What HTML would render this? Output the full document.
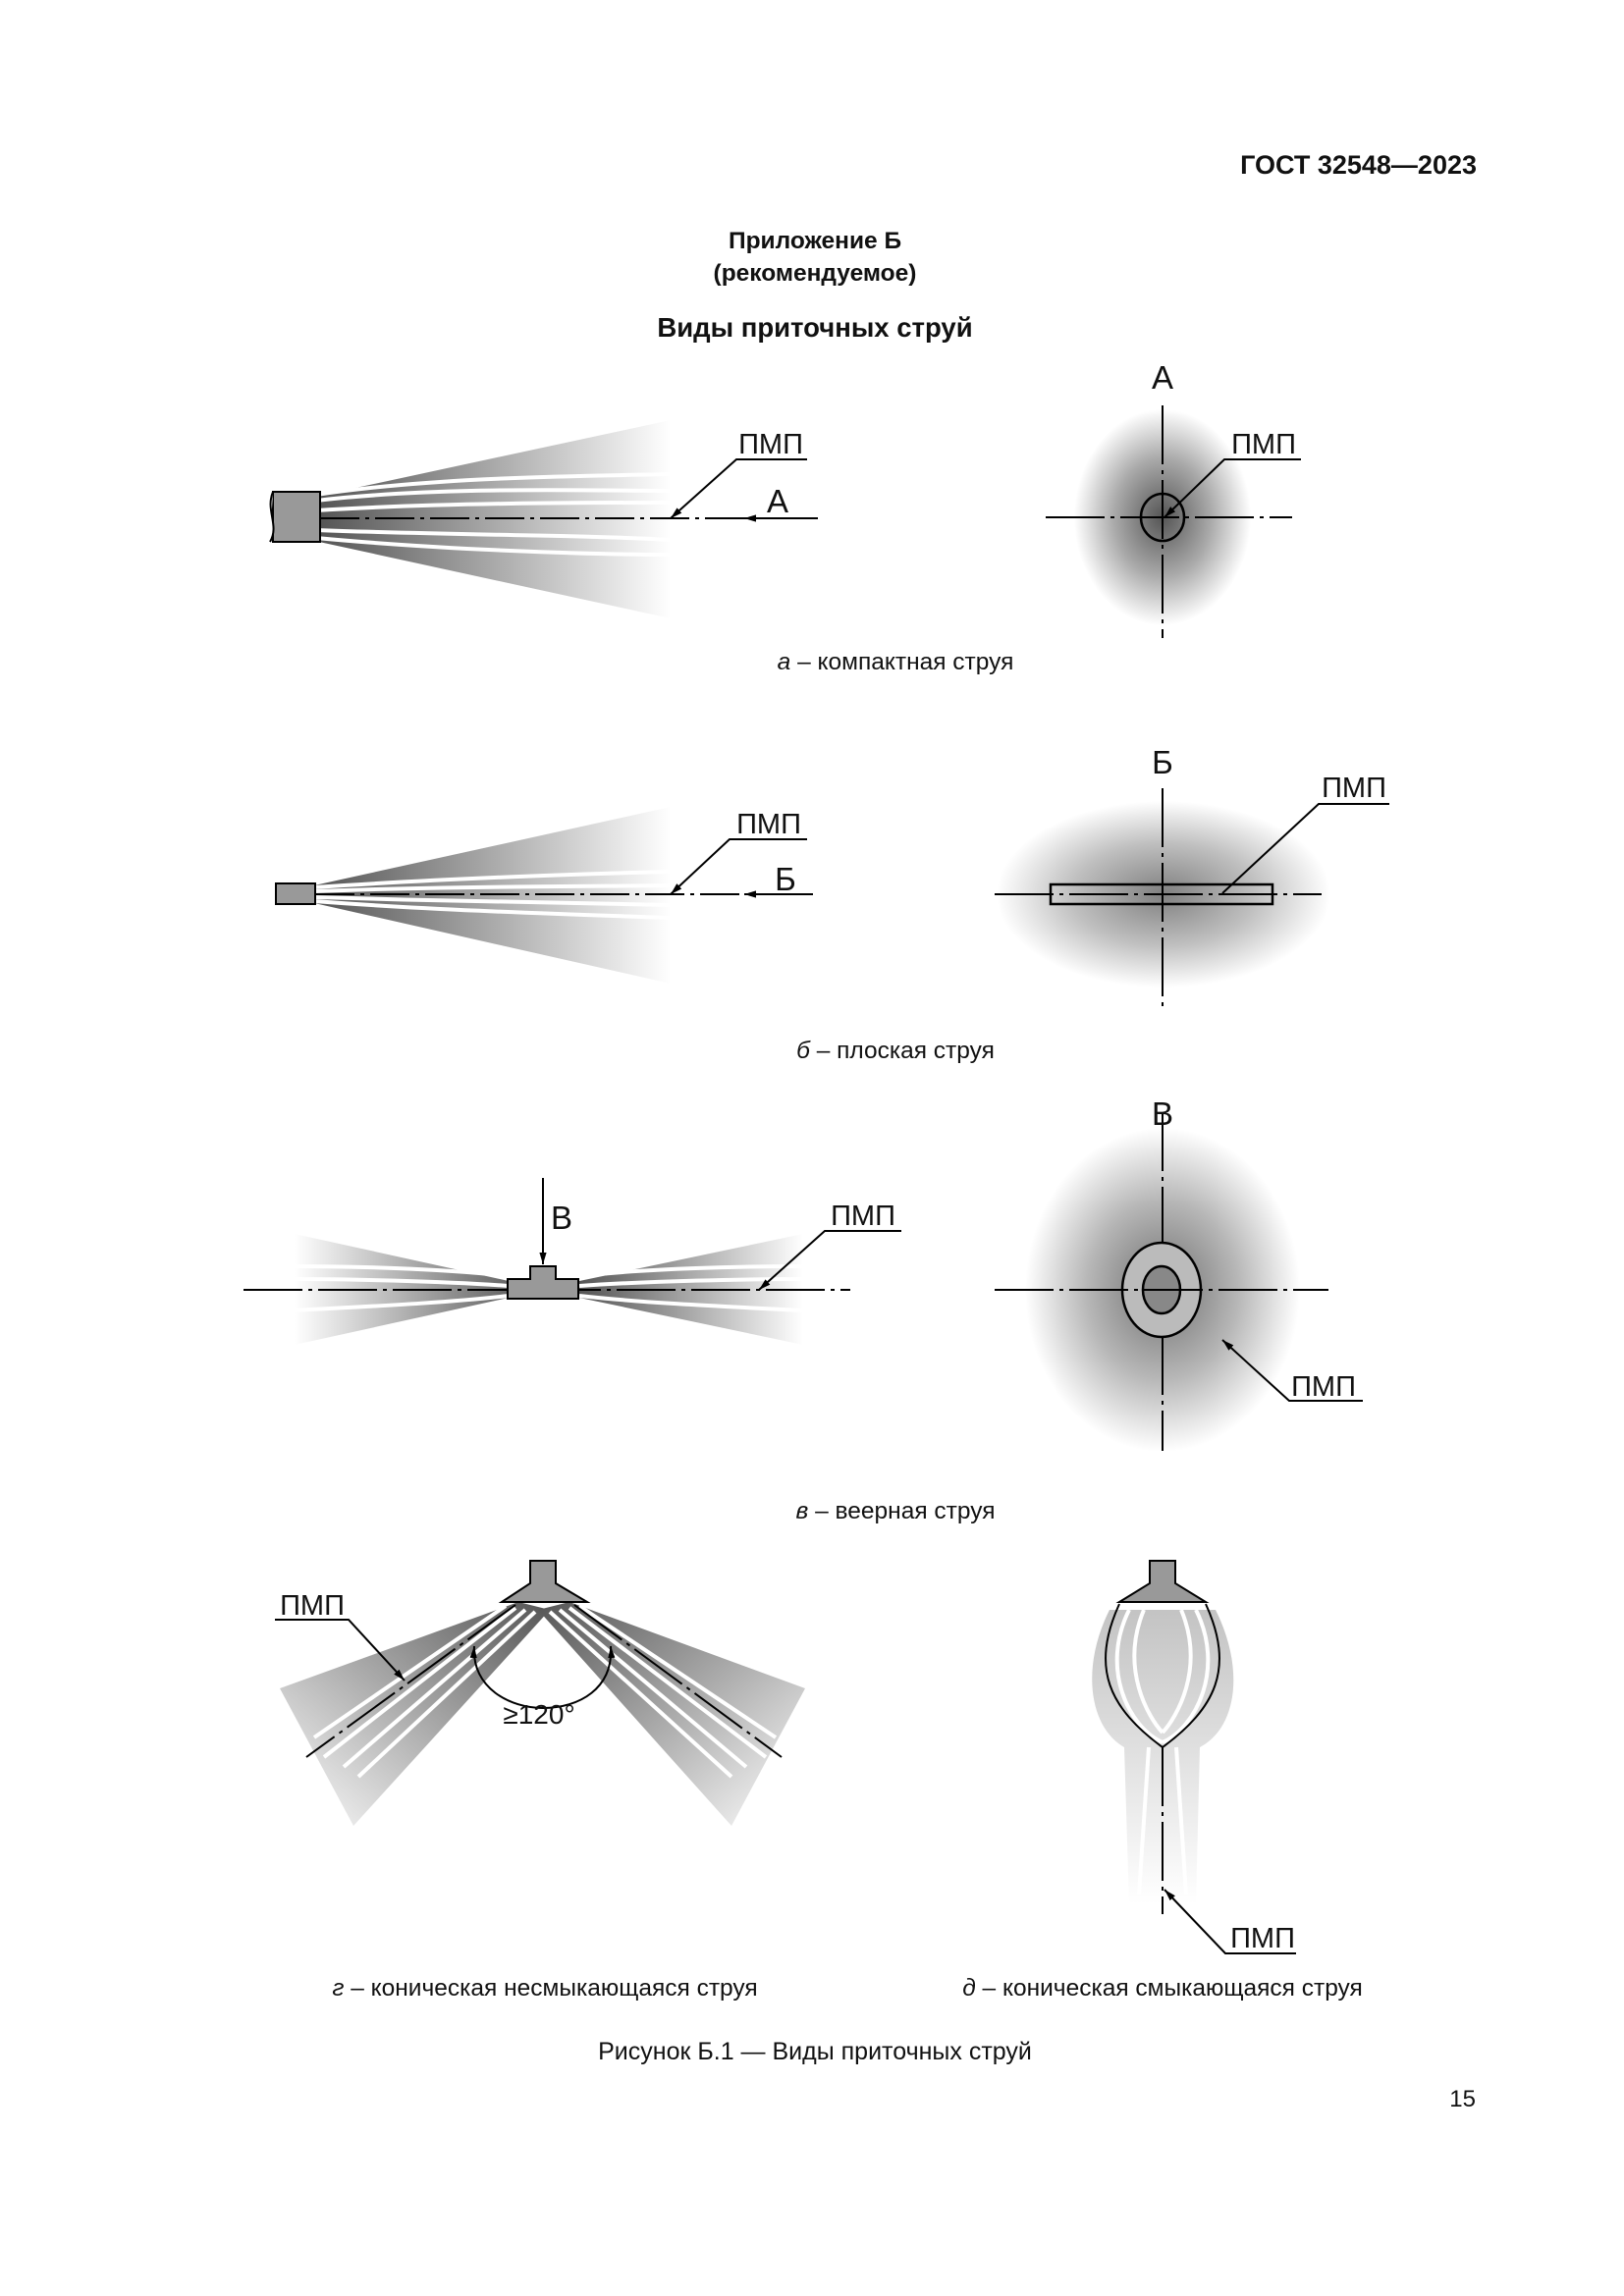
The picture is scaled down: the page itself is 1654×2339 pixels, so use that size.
<!DOCTYPE html>
<html><head><meta charset="utf-8"><style>
html,body{margin:0;padding:0;background:#fff}
svg{display:block}
text{font-family:"Liberation Sans",Arial,sans-serif;fill:#111}
</style></head><body>
<svg width="1654" height="2339" viewBox="0 0 1654 2339" xmlns="http://www.w3.org/2000/svg">
<defs>
<linearGradient id="gl" x1="0" x2="1" y1="0" y2="0"><stop offset="0" stop-color="#555"/><stop offset="1" stop-color="#fff"/></linearGradient>
<linearGradient id="gll" x1="0" x2="1" y1="0" y2="0"><stop offset="0" stop-color="#fff"/><stop offset="1" stop-color="#666"/></linearGradient>
<radialGradient id="rg"><stop offset="0" stop-color="#555"/><stop offset="0.55" stop-color="#aaa"/><stop offset="1" stop-color="#fff"/></radialGradient>
<linearGradient id="gv" x1="0" x2="0" y1="0" y2="1"><stop offset="0" stop-color="#aaa"/><stop offset="1" stop-color="#fff"/></linearGradient>
<linearGradient id="gcl" x1="1" y1="0" x2="0" y2="1"><stop offset="0" stop-color="#555"/><stop offset="1" stop-color="#fff"/></linearGradient>
<linearGradient id="gcr" x1="0" y1="0" x2="1" y2="1"><stop offset="0" stop-color="#555"/><stop offset="1" stop-color="#fff"/></linearGradient>
<marker id="ar" viewBox="0 0 10 10" refX="10" refY="5" markerWidth="12" markerHeight="12" orient="auto-start-reverse" markerUnits="userSpaceOnUse"><path d="M0,2 L10,5 L0,8 z" fill="#000"/></marker>
</defs>

<text x="1504" y="177" font-size="27" font-weight="bold" text-anchor="end">ГОСТ 32548—2023</text>
<text x="830" y="253" font-size="24.5" font-weight="bold" text-anchor="middle">Приложение Б</text>
<text x="830" y="286" font-size="24.5" font-weight="bold" text-anchor="middle">(рекомендуемое)</text>
<text x="830" y="343" font-size="27.5" font-weight="bold" text-anchor="middle">Виды приточных струй</text>

<!-- a left -->
<path d="M325,505 L683,428 L683,630 L325,552 Z" fill="url(#gl)"/>
<g stroke="#fff" stroke-width="4" fill="none">
<path d="M322,510 C450,495 600,500 683,500"/><path d="M322,520 C450,512 600,512 683,512"/><path d="M322,540 C450,545 600,545 683,550"/><path d="M322,548 C450,560 600,565 683,565"/><path d="M322,504 C450,485 600,485 683,483"/>
</g>
<rect x="278" y="501" width="48" height="51" fill="#999" stroke="#000" stroke-width="2"/>
<path d="M278,501 C270,520 285,535 275,552" fill="#fff" stroke="#000" stroke-width="2"/>
<line x1="326" y1="528" x2="833" y2="528" stroke="#000" stroke-width="2" stroke-dasharray="40,6,4,6"/>
<line x1="833" y1="528" x2="758" y2="528" stroke="#000" stroke-width="2" marker-end="url(#ar)"/>
<text x="792" y="522" font-size="33" text-anchor="middle">А</text>
<text x="785" y="462" font-size="29" text-anchor="middle">ПМП</text>
<polyline points="822,468 750,468 683,528" fill="none" stroke="#000" stroke-width="2" marker-end="url(#ar)"/>

<!-- a right -->
<ellipse cx="1184" cy="527" rx="90" ry="110" fill="url(#rg)"/>
<line x1="1065" y1="527" x2="1316" y2="527" stroke="#000" stroke-width="2" stroke-dasharray="60,6,4,6"/>
<line x1="1184" y1="413" x2="1184" y2="650" stroke="#000" stroke-width="2" stroke-dasharray="60,6,4,6"/>
<ellipse cx="1184" cy="527" rx="22" ry="24" fill="none" stroke="#000" stroke-width="2.5"/>
<text x="1184" y="396" font-size="33" text-anchor="middle">А</text>
<text x="1287" y="462" font-size="29" text-anchor="middle">ПМП</text>
<polyline points="1325,468 1247,468 1186,527" fill="none" stroke="#000" stroke-width="2" marker-end="url(#ar)"/>
<text x="912" y="682" font-size="24.5" text-anchor="middle"><tspan font-style="italic">а</tspan> – компактная струя</text>

<!-- б left -->
<path d="M320,902 L683,822 L683,1002 L320,920 Z" fill="url(#gl)"/>
<g stroke="#fff" stroke-width="4" fill="none">
<path d="M320,904 C450,895 600,890 683,888"/><path d="M320,908 C450,903 600,903 683,902"/><path d="M320,914 C450,918 600,920 683,922"/><path d="M320,918 C450,928 600,932 683,935"/>
</g>
<rect x="281" y="900" width="40" height="21" fill="#999" stroke="#000" stroke-width="2"/>
<line x1="321" y1="911" x2="828" y2="911" stroke="#000" stroke-width="2" stroke-dasharray="40,6,4,6"/>
<line x1="828" y1="911" x2="758" y2="911" stroke="#000" stroke-width="2" marker-end="url(#ar)"/>
<text x="800" y="907" font-size="33" text-anchor="middle">Б</text>
<text x="783" y="849" font-size="29" text-anchor="middle">ПМП</text>
<polyline points="822,855 743,855 683,911" fill="none" stroke="#000" stroke-width="2" marker-end="url(#ar)"/>

<!-- б right -->
<ellipse cx="1185" cy="911" rx="170" ry="95" fill="url(#rg)" opacity="0.75"/>
<line x1="1013" y1="911" x2="1346" y2="911" stroke="#000" stroke-width="2" stroke-dasharray="60,6,4,6"/>
<line x1="1184" y1="803" x2="1184" y2="1025" stroke="#000" stroke-width="2" stroke-dasharray="60,6,4,6"/>
<rect x="1070" y="901" width="226" height="20" fill="none" stroke="#000" stroke-width="2.5"/>
<text x="1184" y="788" font-size="33" text-anchor="middle">Б</text>
<text x="1379" y="812" font-size="29" text-anchor="middle">ПМП</text>
<polyline points="1415,819 1343,819 1245,910" fill="none" stroke="#000" stroke-width="2"/>
<text x="912" y="1078" font-size="24.5" text-anchor="middle"><tspan font-style="italic">б</tspan> – плоская струя</text>

<!-- в left -->
<path d="M518,1305 L300,1257 L300,1370 L518,1322 Z" fill="url(#gll)"/>
<path d="M590,1305 L818,1257 L818,1370 L590,1322 Z" fill="url(#gl)"/>
<g stroke="#fff" stroke-width="4" fill="none">
<path d="M518,1300 C450,1292 350,1290 300,1290"/><path d="M518,1310 C450,1305 350,1303 300,1303"/><path d="M518,1320 C450,1328 350,1332 300,1335"/>
<path d="M590,1300 C660,1292 760,1290 818,1290"/><path d="M590,1310 C660,1305 760,1303 818,1303"/><path d="M590,1320 C660,1328 760,1332 818,1335"/>
</g>
<line x1="248" y1="1314" x2="866" y2="1314" stroke="#000" stroke-width="2" stroke-dasharray="60,6,4,6"/>
<path d="M540,1303 L540,1290 L566,1290 L566,1303 L589,1303 L589,1323 L517,1323 L517,1303 Z" fill="#999" stroke="#000" stroke-width="2"/>
<line x1="553" y1="1200" x2="553" y2="1288" stroke="#000" stroke-width="2" marker-end="url(#ar)"/>
<text x="572" y="1252" font-size="33" text-anchor="middle">В</text>
<text x="879" y="1248" font-size="29" text-anchor="middle">ПМП</text>
<polyline points="918,1254 840,1254 773,1314" fill="none" stroke="#000" stroke-width="2" marker-end="url(#ar)"/>

<!-- в right -->
<ellipse cx="1184" cy="1314" rx="140" ry="165" fill="url(#rg)" opacity="0.85"/>
<line x1="1184" y1="1133" x2="1184" y2="1478" stroke="#000" stroke-width="2" stroke-dasharray="60,6,4,6"/>
<ellipse cx="1183" cy="1314" rx="40" ry="48" fill="#bbb" stroke="#000" stroke-width="2.5"/>
<ellipse cx="1183" cy="1314" rx="19" ry="24" fill="#888" stroke="#000" stroke-width="2.5"/>
<line x1="1013" y1="1314" x2="1353" y2="1314" stroke="#000" stroke-width="2" stroke-dasharray="60,6,4,6"/>
<text x="1184" y="1146" font-size="33" text-anchor="middle">В</text>
<text x="1348" y="1422" font-size="29" text-anchor="middle">ПМП</text>
<polyline points="1388,1427 1313,1427 1245,1365" fill="none" stroke="#000" stroke-width="2" marker-end="url(#ar)"/>
<text x="912" y="1547" font-size="24.5" text-anchor="middle"><tspan font-style="italic">в</tspan> – веерная струя</text>

<!-- г -->
<path d="M528,1632 L285,1720 L360,1860 L560,1640 Z" fill="url(#gcl)"/>
<path d="M580,1632 L820,1720 L745,1860 L548,1640 Z" fill="url(#gcr)"/>
<g stroke="#fff" stroke-width="4" fill="none">
<path d="M535,1640 L350,1800"/><path d="M545,1642 L365,1810"/><path d="M525,1638 L330,1790"/><path d="M515,1636 L320,1770"/>
<path d="M570,1640 L760,1800"/><path d="M560,1642 L745,1810"/><path d="M580,1638 L780,1790"/><path d="M590,1636 L790,1770"/>
</g>
<line x1="525" y1="1635" x2="312" y2="1790" stroke="#000" stroke-width="2" stroke-dasharray="60,6,4,6"/>
<line x1="585" y1="1635" x2="796" y2="1790" stroke="#000" stroke-width="2" stroke-dasharray="60,6,4,6"/>
<path d="M540,1590 L566,1590 L566,1613 L598,1632 L511,1632 L540,1613 Z" fill="#999" stroke="#000" stroke-width="2"/>
<path d="M483,1677 C480,1720 520,1740 553,1740 C590,1740 625,1720 622,1677" fill="none" stroke="#000" stroke-width="2" marker-start="url(#ar)" marker-end="url(#ar)"/>
<text x="549" y="1756" font-size="28" text-anchor="middle">≥120°</text>
<text x="318" y="1645" font-size="29" text-anchor="middle">ПМП</text>
<polyline points="280,1650 355,1650 412,1712" fill="none" stroke="#000" stroke-width="2" marker-end="url(#ar)"/>

<!-- д -->
<path d="M1130,1640 C1100,1700 1110,1760 1145,1780 L1150,1940 L1218,1940 L1222,1780 C1260,1760 1268,1700 1238,1640 Z" fill="url(#gv)" opacity="0.7"/>
<g stroke="#fff" stroke-width="4" fill="none">
<path d="M1150,1640 C1120,1700 1150,1760 1184,1775"/><path d="M1218,1640 C1248,1700 1218,1760 1184,1775"/>
<path d="M1165,1640 C1140,1700 1170,1750 1184,1765"/><path d="M1203,1640 C1228,1700 1198,1750 1184,1765"/>
<path d="M1170,1780 L1160,1930"/><path d="M1198,1780 L1208,1930"/>
</g>
<path d="M1140,1634 C1110,1700 1130,1740 1184,1780 C1238,1740 1258,1700 1228,1634" fill="none" stroke="#000" stroke-width="2"/>
<line x1="1184" y1="1780" x2="1184" y2="1950" stroke="#000" stroke-width="2" stroke-dasharray="60,6,4,6"/>
<path d="M1171,1590 L1197,1590 L1197,1613 L1228,1632 L1140,1632 L1171,1613 Z" fill="#999" stroke="#000" stroke-width="2"/>
<text x="1286" y="1984" font-size="29" text-anchor="middle">ПМП</text>
<polyline points="1320,1990 1248,1990 1186,1925" fill="none" stroke="#000" stroke-width="2" marker-end="url(#ar)"/>

<text x="555" y="2033" font-size="24.5" text-anchor="middle"><tspan font-style="italic">г</tspan> – коническая несмыкающаяся струя</text>
<text x="1184" y="2033" font-size="24.5" text-anchor="middle"><tspan font-style="italic">д</tspan> – коническая смыкающаяся струя</text>
<text x="830" y="2098" font-size="25" text-anchor="middle">Рисунок Б.1 — Виды приточных струй</text>
<text x="1503" y="2146" font-size="24" text-anchor="end">15</text>
</svg>
</body></html>
